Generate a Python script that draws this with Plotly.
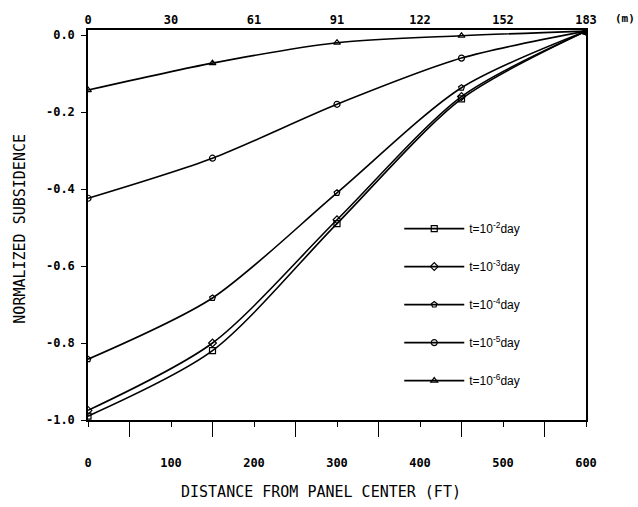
import plotly.graph_objects as go

# Distance from panel center (ft) where subsidence was computed
distance_ft = [0, 150, 300, 450, 600]

# Normalized subsidence for each elapsed time
sub_t1e2 = [-0.99, -0.82, -0.49, -0.166, 0.01]
sub_t1e3 = [-0.975, -0.80, -0.48, -0.16, 0.01]
sub_t1e4 = [-0.842, -0.683, -0.41, -0.137, 0.01]
sub_t1e5 = [-0.424, -0.32, -0.18, -0.06, 0.01]
sub_t1e6 = [-0.143, -0.073, -0.02, -0.002, 0.01]

series_names = ["t=10<sup>-2</sup>day", "t=10<sup>-3</sup>day", "t=10<sup>-4</sup>day",
                "t=10<sup>-5</sup>day", "t=10<sup>-6</sup>day"]
series_values = [sub_t1e2, sub_t1e3, sub_t1e4, sub_t1e5, sub_t1e6]
series_symbols = ["square-open", "diamond-open", "pentagon-open", "circle-open", "triangle-up-open"]

# Bottom axis (ft) ticks and the matching metric labels on the top axis
ft_ticks = [0, 100, 200, 300, 400, 500, 600]
m_labels = ["0", "30", "61", "91", "122", "152", "183"]

mono = "DejaVu Sans Mono"

fig = go.Figure()
for i, (name, vals, sym) in enumerate(zip(series_names, series_values, series_symbols)):
    fig.add_trace(go.Scatter(
        x=distance_ft, y=vals, name=name, mode="lines+markers",
        line=dict(color="black", width=1.6, shape="spline", smoothing=0.8),
        marker=dict(symbol=sym, size=6, color="black", line=dict(width=1.2, color="black")),
        legendgroup=f"g{i}",
    ))

# invisible trace carrying the top (metric) axis
fig.add_trace(go.Scatter(x=[0, 600], y=[None, None], xaxis="x2", showlegend=False,
                         hoverinfo="skip"))

fig.update_layout(
    width=638, height=507,
    margin=dict(l=88, r=52, t=30, b=87),
    paper_bgcolor="white", plot_bgcolor="white",
    font=dict(family=mono, color="black", size=12),
    showlegend=True,
    legend=dict(
        x=0.625, y=0.528, xanchor="left", yanchor="top",
        bgcolor="rgba(0,0,0,0)", borderwidth=0,
        font=dict(family="Liberation Sans", size=12, color="black"),
        itemwidth=60, tracegroupgap=19,
    ),
    xaxis=dict(
        range=[0, 600], tickvals=ft_ticks, ticks="outside", ticklen=5, tickwidth=1,
        tickcolor="black", showgrid=False, zeroline=False,
        showline=True, linecolor="black", linewidth=2, mirror=True,
        ticklabelstandoff=26,
        tickfont=dict(family=mono, size=12, weight="bold"),
        minor=dict(tick0=50, dtick=100, ticks="outside", ticklen=15, tickcolor="black",
                   tickwidth=1.2),
    ),
    xaxis2=dict(
        range=[0, 600], overlaying="x", side="top", tickvals=ft_ticks, ticktext=m_labels,
        ticks="", showgrid=False, zeroline=False, showline=False,
        tickfont=dict(family=mono, size=12, weight="bold"), ticklabelstandoff=3,
    ),
    yaxis=dict(
        range=[-1.0, 0.013], tickvals=[0.0, -0.2, -0.4, -0.6, -0.8, -1.0],
        ticktext=["0.0", "-0.2", "-0.4", "-0.6", "-0.8", "-1.0"],
        ticks="outside", ticklen=5, tickwidth=1, tickcolor="black",
        showgrid=False, zeroline=False,
        showline=True, linecolor="black", linewidth=1.5, mirror=True,
        tickfont=dict(family=mono, size=12, weight="bold"), ticklabelstandoff=4,
    ),
    annotations=[
        dict(text="DISTANCE FROM PANEL CENTER (FT)", xref="paper", yref="paper",
             x=0.468, y=-0.185, xanchor="center", yanchor="middle", showarrow=False,
             font=dict(family=mono, size=15, color="black")),
        dict(text="NORMALIZED SUBSIDENCE", xref="paper", yref="paper",
             x=-0.137, y=0.49, xanchor="center", yanchor="middle", showarrow=False,
             textangle=-90, font=dict(family=mono, size=15, color="black")),
        dict(text="(m)", xref="paper", yref="paper", x=1.078, y=1.03,
             xanchor="center", yanchor="middle", showarrow=False,
             font=dict(family=mono, size=11, color="black", weight="bold")),
    ],
)

fig.write_html("out.html")
